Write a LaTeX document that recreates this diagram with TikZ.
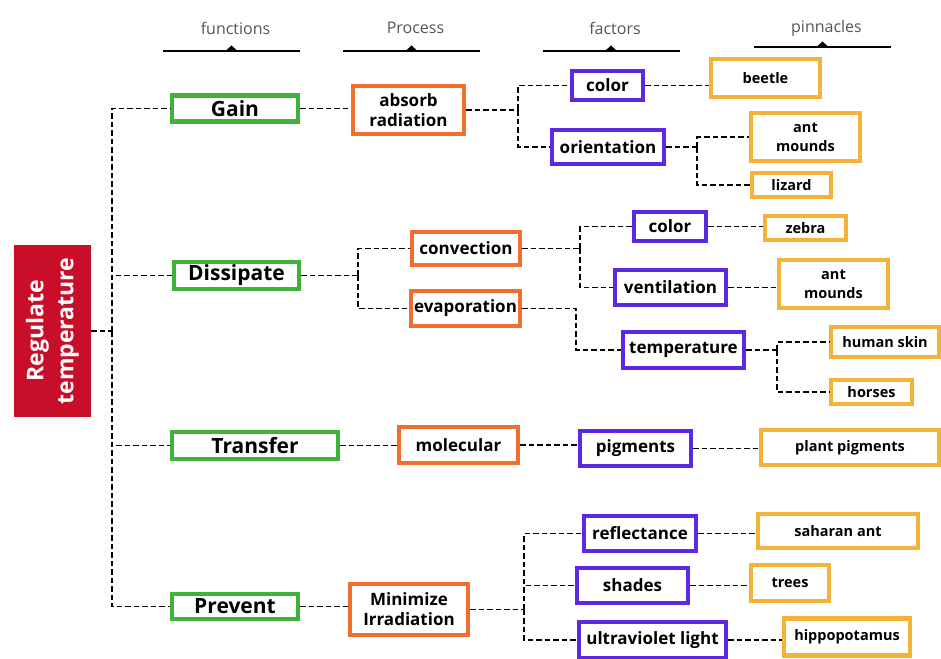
\documentclass[tikz,border=0pt]{standalone}
\usepackage{fontspec}
\setmainfont{Open Sans}
\definecolor{fngreen}{RGB}{62,178,58}
\definecolor{prorange}{RGB}{240,110,45}
\definecolor{fcpurple}{RGB}{92,40,226}
\definecolor{pnyellow}{RGB}{245,178,58}
\definecolor{rootred}{RGB}{200,14,40}
\definecolor{headgray}{RGB}{85,85,85}
\tikzset{box/.style={draw, line width=4.2pt, fill=white, align=center, inner sep=1pt},
fnbox/.style={box, draw=fngreen, font=\fontsize{21}{24}\selectfont\bfseries},
prbox/.style={box, draw=prorange, font=\fontsize{17}{20}\selectfont\bfseries},
fcbox/.style={box, draw=fcpurple, font=\fontsize{17}{20}\selectfont\bfseries},
pnbox/.style={box, draw=pnyellow, font=\fontsize{14.5}{19}\selectfont\bfseries},
%dashed connectors
link/.style={line width=1.9pt, dash pattern=on 5.5pt off 3pt}}

\begin{document}
\begin{tikzpicture}[x=1pt,y=-1pt]
\useasboundingbox[fill=white] (0,0) rectangle (941,658);

% column headers
\foreach \i/\x/\y/\txt in {1/231.5/51/functions,2/411.5/51/Process,3/611/51/factors,4/822.5/47/pinnacles}{
  \draw[line width=1.6pt] (\x-68.5,\y) -- (\x+68.5,\y);
  \fill (\x-6,\y) -- (\x,\y-5.5) -- (\x+6,\y) -- cycle;
  \node[text=headgray, font=\fontsize{16}{18}\selectfont] (hd\i) at (\x+4,28) {\txt};
}

% root
\node[rotate=90, fill=rootred, text=white, align=center, minimum width=172, minimum height=77,
  font=\fontsize{23}{30}\selectfont\bfseries] (root) at (52.5,331) {Regulate\\temperature};

% functions
\node[fnbox, minimum width=126, minimum height=26] (gain) at (235,108.5) {Gain};
\node[fnbox, minimum width=125, minimum height=27] (dissipate) at (236.5,275.5) {Dissipate};
\node[fnbox, minimum width=166, minimum height=27] (transfer) at (255,445.5) {Transfer};
\node[fnbox, minimum width=126, minimum height=25] (prevent) at (235,606.5) {Prevent};

% processes
\node[prbox, minimum width=111, minimum height=48] (absorb) at (408.5,110) {absorb\\radiation};
\node[prbox, minimum width=108, minimum height=33] (convection) at (466,248.5) {convection};
\node[prbox, minimum width=109, minimum height=35] (evaporation) at (465.5,308.5) {evaporation};
\node[prbox, minimum width=119, minimum height=36] (molecular) at (458.5,445) {molecular};
\node[prbox, minimum width=118, minimum height=51] (minimize) at (409,609.5) {Minimize\\Irradiation};

% factors
\node[fcbox, minimum width=71, minimum height=29] (colorA) at (607.5,85.5) {color};
\node[fcbox, minimum width=112, minimum height=34] (orientation) at (608,147) {orientation};
\node[fcbox, minimum width=72, minimum height=29] (colorB) at (670,226.5) {color};
\node[fcbox, minimum width=111, minimum height=35] (ventilation) at (670.5,287.5) {ventilation};
\node[fcbox, minimum width=121, minimum height=36] (temperature) at (683.5,350) {temperature};
\node[fcbox, minimum width=111, minimum height=35] (pigments) at (635.5,448.5) {pigments};
\node[fcbox, minimum width=112, minimum height=35] (reflectance) at (640,533.5) {reflectance};
\node[fcbox, minimum width=111, minimum height=35] (shades) at (632.5,585.5) {shades};
\node[fcbox, minimum width=147, minimum height=36] (ultraviolet) at (652.5,640) {ultraviolet light};

% pinnacles
\node[pnbox, minimum width=109, minimum height=38] (beetle) at (765.5,78) {beetle};
\node[pnbox, minimum width=109, minimum height=48] (antA) at (805.5,137) {ant\\mounds};
\node[pnbox, minimum width=79, minimum height=24] (lizard) at (791.5,185) {lizard};
\node[pnbox, minimum width=81, minimum height=24] (zebra) at (805.5,228) {zebra};
\node[pnbox, minimum width=109, minimum height=48] (antB) at (833.5,284) {ant\\mounds};
\node[pnbox, minimum width=108, minimum height=30] (humanskin) at (885,342) {human skin};
\node[pnbox, minimum width=81, minimum height=24] (horses) at (871.5,392) {horses};
\node[pnbox, minimum width=178, minimum height=35] (plantpig) at (850,447.5) {plant pigments};
\node[pnbox, minimum width=160, minimum height=34] (saharan) at (838,531) {saharan ant};
\node[pnbox, minimum width=78, minimum height=36] (trees) at (790,583) {trees};
\node[pnbox, minimum width=126, minimum height=37] (hippo) at (847,637) {hippopotamus};

% trunk from root
\draw[link] (root.south) -- ++(20.5,0) coordinate (hub);
\foreach \f in {gain,dissipate,transfer,prevent}
  \draw[link] (hub) |- (\f.west);

% forks
\draw[link] (absorb.east) -- ++(52,0) coordinate (j1);
\foreach \t in {colorA,orientation} \draw[link] (j1) |- (\t.west);
\draw[link] (orientation.east) -- ++(31,0) coordinate (j2);
\foreach \t in {antA,lizard} \draw[link] (j2) |- (\t.west);
\draw[link] (dissipate.east) -- ++(57,0) coordinate (j3);
\foreach \t in {convection,evaporation} \draw[link] (j3) |- (\t.west);
\draw[link] (convection.east) -- ++(58,0) coordinate (j4);
\foreach \t in {colorB,ventilation} \draw[link] (j4) |- (\t.west);
\draw[link] (evaporation.east) -- ++(54,0) |- (temperature.west);
\draw[link] (temperature.east) -- ++(31,0) coordinate (j5);
\foreach \t in {humanskin,horses} \draw[link] (j5) |- (\t.west);
\draw[link] (minimize.east) -- ++(54,0) coordinate (j6);
\foreach \t in {reflectance,shades,ultraviolet} \draw[link] (j6) |- (\t.west);

% straight links
\foreach \a/\b in {gain/absorb,colorA/beetle,colorB/zebra,ventilation/antB,transfer/molecular,
  molecular/pigments,pigments/plantpig,prevent/minimize,reflectance/saharan,shades/trees,ultraviolet/hippo}
  \draw[link] (\a.east) -- (\a.east -| \b.west);

\end{tikzpicture}
\end{document}
